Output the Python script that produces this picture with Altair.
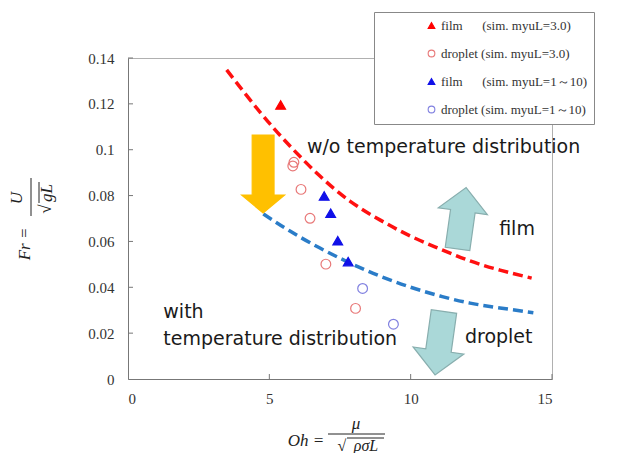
import altair as alt
import pandas as pd

NB = "\u00a0"

# ---- data ----
series_names = [
    "film" + NB * 6 + "(sim." + NB + "myuL=3.0)",
    "droplet" + NB + "(sim." + NB + "myuL=3.0)",
    "film" + NB * 6 + "(sim." + NB + "myuL=1～10)" + NB * 10,
    "droplet" + NB + "(sim." + NB + "myuL=1～10)" + NB * 10,
]
red_tri_x = [5.40]
red_tri_y = [0.1195]
red_circ_x = [5.87, 5.83, 6.12, 6.44, 7.00, 8.05]
red_circ_y = [0.0945, 0.0929, 0.0827, 0.0701, 0.0501, 0.0308]
blue_tri_x = [6.94, 7.17, 7.42, 7.79]
blue_tri_y = [0.0798, 0.0723, 0.0603, 0.0512]
blue_circ_x = [8.30, 9.39]
blue_circ_y = [0.0395, 0.0239]

red_curve_x = [3.49, 4.67, 5.73, 6.79, 7.85, 8.91, 9.98, 11.04, 12.10, 13.16, 14.28]
red_curve_y = [0.1348, 0.1164, 0.1016, 0.0885, 0.0776, 0.0694, 0.0624, 0.0567, 0.0515, 0.0475, 0.0440]
blue_curve_x = [4.79, 5.73, 6.79, 7.85, 8.91, 9.98, 11.04, 12.10, 13.16, 14.34]
blue_curve_y = [0.0720, 0.0645, 0.0571, 0.0506, 0.0449, 0.0401, 0.0362, 0.0331, 0.0310, 0.0289]

x_ticks = [0, 5, 10, 15]
y_ticks = [0, 0.02, 0.04, 0.06, 0.08, 0.1, 0.12, 0.14]

note_text = ["w/o temperature distribution", "film", "droplet", "with", "temperature distribution"]
note_x = [6.33, 13.13, 11.92, 1.25, 1.25]
note_y = [0.0986, 0.0628, 0.0158, 0.0265, 0.0148]

arrow_x = [4.78, 11.81, 11.02]
arrow_y = [0.0894, 0.0701, 0.0156]

# ---- tables ----
pts = pd.DataFrame({
    "x": red_tri_x + red_circ_x + blue_tri_x + blue_circ_x,
    "y": red_tri_y + red_circ_y + blue_tri_y + blue_circ_y,
    "series": [series_names[0]] * len(red_tri_x) + [series_names[1]] * len(red_circ_x)
    + [series_names[2]] * len(blue_tri_x) + [series_names[3]] * len(blue_circ_x),
})
red_curve = pd.DataFrame({"x": red_curve_x, "y": red_curve_y})
blue_curve = pd.DataFrame({"x": blue_curve_x, "y": blue_curve_y})
notes = pd.DataFrame({"x": note_x, "y": note_y, "t": note_text})
xt = pd.DataFrame({"v": x_ticks[1:]})
yt = pd.DataFrame({"v": y_ticks[1:]})

W, H = 424, 321
xs = alt.Scale(domain=[0, 15], nice=False, zero=False)
ys = alt.Scale(domain=[0, 0.14], nice=False, zero=False)
AX = "#777777"
SERIF = "Liberation Serif"

X = lambda: alt.X("x:Q", scale=xs, axis=alt.Axis(values=x_ticks, ticks=False, grid=False, title=None,
                                                 labelFont=SERIF, labelFontSize=15, labelColor="#333333",
                                                 labelPadding=12, domainColor=AX))
Y = lambda: alt.Y("y:Q", scale=ys, axis=alt.Axis(values=y_ticks, format="~g", ticks=False, grid=False, title=None,
                                                 labelFont=SERIF, labelFontSize=15, labelColor="#333333",
                                                 labelPadding=14, domainColor=AX))

leg = alt.Legend(title=None, orient="none", legendX=246, legendY=-46, padding=7,
                 strokeColor="#888888", fillColor="white", labelFont=SERIF, labelFontSize=13,
                 labelColor="#333333", rowPadding=14, symbolOffset=44, labelOffset=3,
                 symbolSize=45, symbolStrokeWidth=1.1)

curves = [
    alt.Chart(red_curve).mark_line(color="#ff1010", strokeDash=[10, 5], strokeWidth=3.5,
                                   interpolate="natural", clip=False).encode(x=X(), y=Y()),
    alt.Chart(blue_curve).mark_line(color="#2a7cc8", strokeDash=[10, 5], strokeWidth=3.5,
                                    interpolate="natural", clip=False).encode(x=X(), y=Y()),
]

points = alt.Chart(pts).mark_point(filled=True, size=95, opacity=1, strokeWidth=1.2).encode(
    x=X(), y=Y(),
    shape=alt.Shape("series:N", scale=alt.Scale(domain=series_names,
                    range=["triangle-up", "circle", "triangle-up", "circle"]), legend=leg),
    fill=alt.Fill("series:N", scale=alt.Scale(domain=series_names,
                  range=["#ff0000", "transparent", "#1010e8", "transparent"]), legend=leg),
    stroke=alt.Stroke("series:N", scale=alt.Scale(domain=series_names,
                      range=["#ff0000", "#e87878", "#1010e8", "#8080e0"]), legend=leg),
)

down_path = "M-0.28,-1L0.28,-1L0.28,0.54L0.55,0.54L0,1L-0.55,0.54L-0.28,0.54Z"
up_path = "M0,-1L0.8,-0.23L0.4,-0.23L0.4,1L-0.4,1L-0.4,-0.23L-0.8,-0.23Z"
arrow_style = [
    dict(shape=down_path, size=6084, angle=0, fill="#ffc000", stroke="#ffc000"),
    dict(shape=up_path, size=3844, angle=8, fill="#aad8d8", stroke="#88aeae"),
    dict(shape=up_path, size=4096, angle=188, fill="#aad8d8", stroke="#88aeae"),
]
arrows = []
for i, st in enumerate(arrow_style):
    d = pd.DataFrame({"x": [arrow_x[i]], "y": [arrow_y[i]]})
    arrows.append(alt.Chart(d).mark_point(shape=st["shape"], size=st["size"], angle=st["angle"],
                                          filled=True, fill=st["fill"], stroke=st["stroke"],
                                          strokeWidth=1.2, opacity=1).encode(x=X(), y=Y()))

note_layer = alt.Chart(notes).mark_text(align="left", baseline="alphabetic", font="DejaVu Sans",
                                        fontSize=19, color="#1a1a1a").encode(x=X(), y=Y(), text="t:N")

xtick_layer = alt.Chart(xt).mark_rule(color=AX, strokeWidth=1).encode(
    x=alt.X("v:Q", scale=xs), y=alt.value(H), y2=alt.value(H - 5))
ytick_layer = alt.Chart(yt).mark_rule(color=AX, strokeWidth=1).encode(
    y=alt.Y("v:Q", scale=ys), x=alt.value(0), x2=alt.value(5))


# ---- axis titles built as formulas ----
def txt(s, x, y, angle=0, size=17, style="italic"):
    return alt.Chart(pd.DataFrame({"a": [0]})).mark_text(
        text=s, font=SERIF, fontStyle=style, fontSize=size, color="#222222",
        align="center", baseline="middle", angle=angle).encode(x=alt.value(x), y=alt.value(y))


def rule(x, x2, y, y2):
    return alt.Chart(pd.DataFrame({"a": [0]})).mark_rule(color="#222222", strokeWidth=1).encode(
        x=alt.value(x), x2=alt.value(x2), y=alt.value(y), y2=alt.value(y2))


ytitle = [
    txt("Fr =", -103, 186, angle=270),
    txt("U", -111, 140, angle=270),
    rule(-97, -97, 120, 158),
    txt("√", -82, 151, angle=270, style="normal"),
    txt("gL", -81, 135, angle=270),
    rule(-89, -89, 124, 145),
]
xtitle = [
    txt("Oh =", 178, 383),
    txt("μ", 228, 366),
    rule(200, 257, 376, 376),
    txt("√", 214, 388, size=16, style="normal"),
    txt("ρσL", 238, 388, size=16),
    rule(219, 256, 380, 380),
]

chart = alt.layer(
    *curves, *arrows, points, note_layer, xtick_layer, ytick_layer, *ytitle, *xtitle
).properties(
    width=W, height=H, autosize=alt.AutoSizeParams(type="none"),
    padding={"left": 120, "top": 50, "right": 72, "bottom": 74},
).configure_view(stroke="#b0b0b0", strokeWidth=1).configure_axis(domainWidth=1)

chart.save("out.html", embed_options={"renderer": "svg", "actions": False})
